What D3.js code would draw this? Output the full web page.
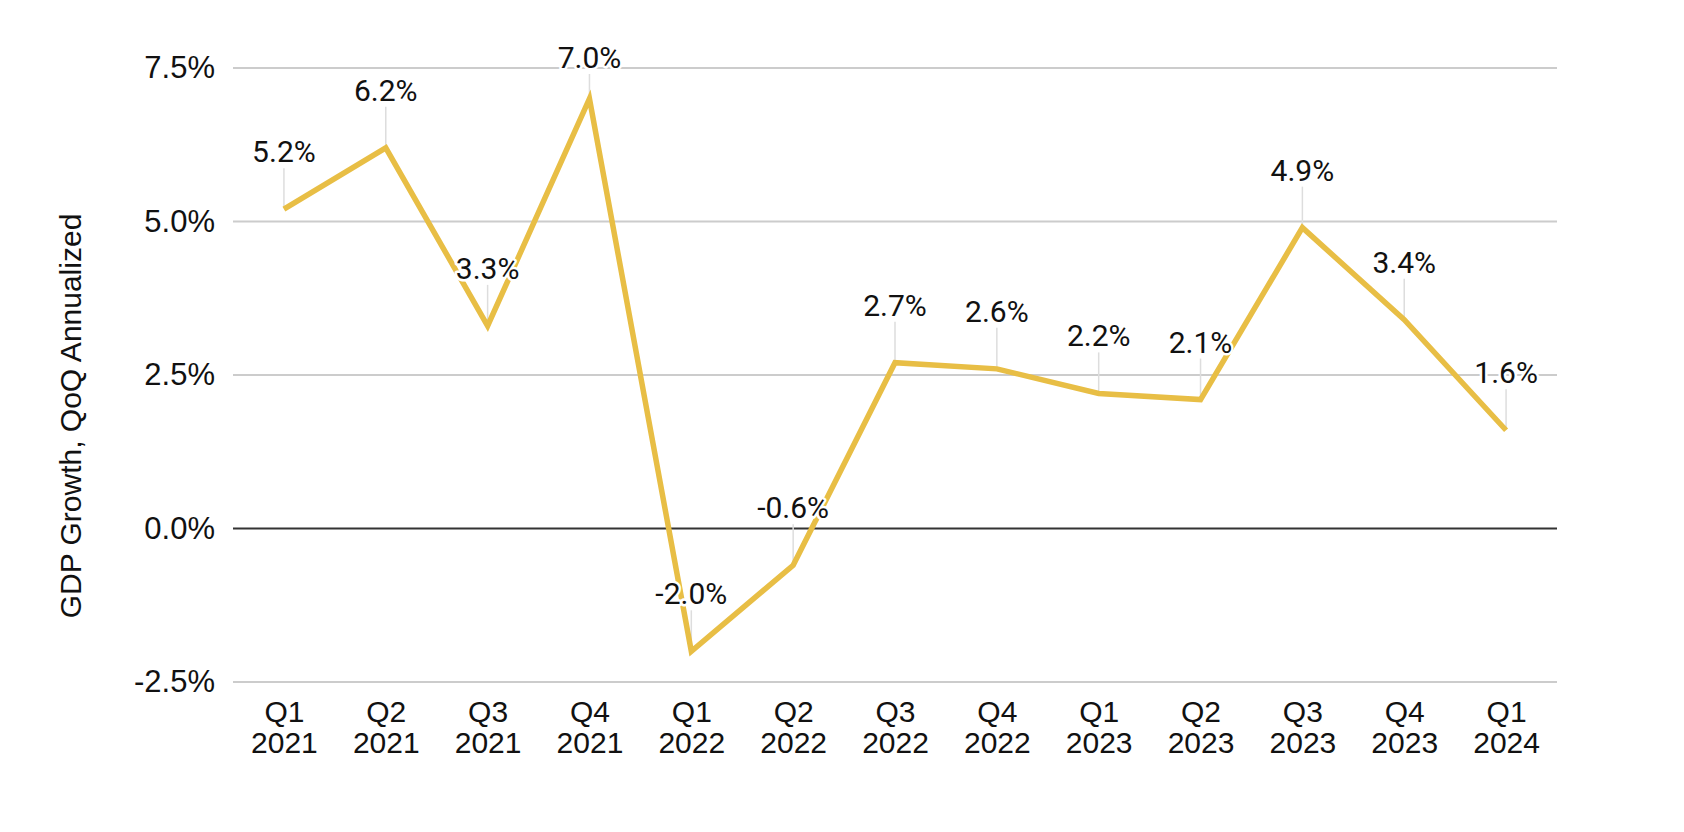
<!DOCTYPE html>
<html>
<head>
<meta charset="utf-8">
<script src="https://cdn.jsdelivr.net/npm/d3@7"></script>
<style>
  html, body { margin: 0; padding: 0; background: #fff; }
  svg { display: block; }
</style>
</head>
<body>
<svg id="chart" width="1684" height="832"></svg>
<script>
const quarters = ["Q1", "Q2", "Q3", "Q4", "Q1", "Q2", "Q3", "Q4", "Q1", "Q2", "Q3", "Q4", "Q1"];
const years = ["2021", "2021", "2021", "2021", "2022", "2022", "2022", "2022", "2023", "2023", "2023", "2023", "2024"];
const gdpGrowth = [5.2, 6.2, 3.3, 7.0, -2.0, -0.6, 2.7, 2.6, 2.2, 2.1, 4.9, 3.4, 1.6];
const yTicks = [-2.5, 0, 2.5, 5.0, 7.5];
const yTitle = "GDP Growth, QoQ Annualized";

const W = 1684, H = 832;
const margin = { top: 68, right: 127, bottom: 150, left: 233 };
const svg = d3.select("#chart");

const keys = quarters.map((q, i) => q + " " + years[i]);
const x = d3.scalePoint().domain(keys).range([margin.left, W - margin.right]).padding(0.5);
const y = d3.scaleLinear().domain([-2.5, 7.5]).range([H - margin.bottom, margin.top]);

const axisFont = "'Liberation Sans', Arial, Helvetica, sans-serif";
const labelFont = "Roboto, 'Liberation Sans', Arial, sans-serif";

// gridlines
svg.append("g").selectAll("line").data(yTicks).join("line")
  .attr("x1", margin.left).attr("x2", W - margin.right)
  .attr("y1", d => y(d)).attr("y2", d => y(d))
  .attr("stroke", d => d === 0 ? "#333333" : "#cccccc")
  .attr("stroke-width", 2);

// y axis tick labels
const yAxis = d3.axisLeft(y).tickValues(yTicks).tickSize(0).tickPadding(18)
  .tickFormat(d => d.toFixed(1) + "%");
const gy = svg.append("g").attr("transform", `translate(${margin.left},0)`).call(yAxis);
gy.select(".domain").remove();
gy.selectAll("text").attr("font-family", axisFont).attr("font-size", 31).attr("fill", "#111");

// x axis labels (two lines)
const xAxis = d3.axisBottom(x).tickSize(0).tickFormat(() => "");
const gx = svg.append("g").attr("transform", `translate(0,${H - margin.bottom})`).call(xAxis);
gx.select(".domain").remove();
gx.selectAll(".tick text").remove();
gx.selectAll(".tick line").remove();
gx.selectAll(".tick").each(function(d, i) {
  const g = d3.select(this);
  g.append("text")
    .attr("text-anchor", "middle").attr("x", 0).attr("y", 40)
    .attr("font-family", axisFont).attr("font-size", 30).attr("fill", "#111")
    .text(quarters[i]);
  g.append("text")
    .attr("text-anchor", "middle").attr("x", 0).attr("y", 71)
    .attr("font-family", axisFont).attr("font-size", 30).attr("fill", "#111")
    .text(years[i]);
});

// y axis title
svg.append("text")
  .attr("transform", `translate(81,${H / 2}) rotate(-90)`)
  .attr("text-anchor", "middle")
  .attr("font-family", axisFont).attr("font-size", 30).attr("fill", "#111")
  .text(yTitle);

const pts = gdpGrowth.map((v, i) => ({ key: keys[i], v }));
const labelOffset = 47;
const minBaseline = 68;
const baseY = d => Math.max(y(d.v) - labelOffset, minBaseline);

// leader lines
svg.append("g").selectAll("line").data(pts).join("line")
  .attr("x1", d => x(d.key)).attr("x2", d => x(d.key))
  .attr("y1", d => baseY(d) + 6).attr("y2", d => y(d.v) - 2)
  .attr("stroke", "#dddddd").attr("stroke-width", 1.5);

// line
const line = d3.line().x(d => x(d.key)).y(d => y(d.v));
svg.append("path").datum(pts)
  .attr("d", line)
  .attr("fill", "none")
  .attr("stroke", "#E8BE45")
  .attr("stroke-width", 5.5)
  .attr("stroke-linejoin", "miter")
  .attr("stroke-linecap", "butt");

// data labels with white halo
svg.append("g").selectAll("text").data(pts).join("text")
  .attr("x", d => x(d.key)).attr("y", d => baseY(d))
  .attr("text-anchor", "middle")
  .attr("font-family", labelFont).attr("font-size", 30)
  .attr("fill", "#111")
  .attr("stroke", "#ffffff").attr("stroke-width", 5).attr("stroke-linejoin", "round")
  .attr("paint-order", "stroke")
  .text(d => d.v.toFixed(1) + "%");
</script>
</body>
</html>
